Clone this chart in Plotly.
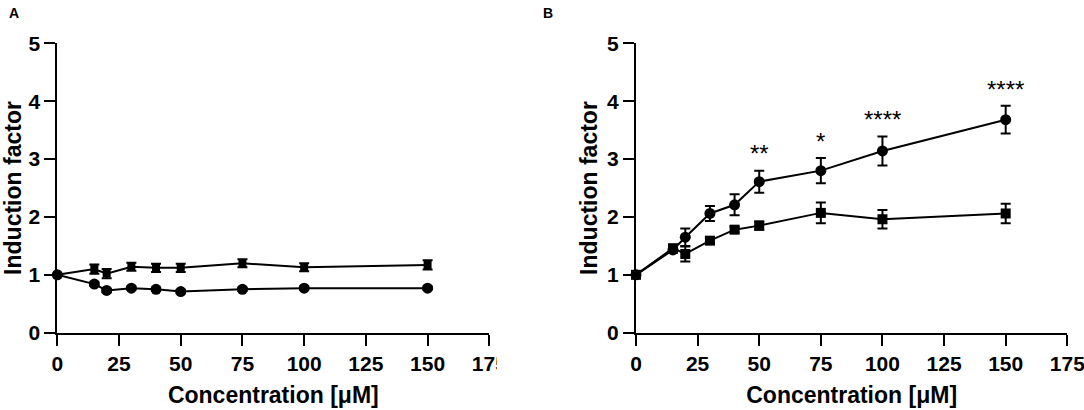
import plotly.graph_objects as go

# ---- data ----
conc = [0, 15, 20, 30, 40, 50, 75, 100, 150]

a_circle = [1.0, 0.84, 0.73, 0.77, 0.75, 0.71, 0.75, 0.77, 0.77]
a_circle_err = [0.02, 0.03, 0.03, 0.03, 0.03, 0.03, 0.03, 0.03, 0.03]
a_square = [1.0, 1.10, 1.02, 1.14, 1.12, 1.12, 1.20, 1.13, 1.17]
a_square_err = [0.02, 0.08, 0.08, 0.07, 0.07, 0.07, 0.07, 0.07, 0.08]

b_circle = [1.0, 1.43, 1.65, 2.06, 2.21, 2.61, 2.80, 3.14, 3.68]
b_circle_err = [0.02, 0.05, 0.15, 0.13, 0.18, 0.19, 0.22, 0.25, 0.24]
b_square = [1.0, 1.46, 1.36, 1.59, 1.78, 1.85, 2.07, 1.96, 2.06]
b_square_err = [0.02, 0.05, 0.13, 0.05, 0.05, 0.07, 0.18, 0.16, 0.17]

b_stars = ["", "", "", "", "", "**", "*", "****", "****"]

x_ticks = [0, 25, 50, 75, 100, 125, 150, 175]
y_ticks = [0, 1, 2, 3, 4, 5]
panel_labels = ["A", "B"]

FONT = "Liberation Sans, Arial, sans-serif"
W, H = 1084, 410


def px_x(v):
    return v / W


def px_y(v):
    return 1 - v / H


fig = go.Figure()


def add_series(y, err, symbol, size, xa, ya):
    fig.add_trace(go.Scatter(
        x=conc, y=y, mode="lines+markers",
        line=dict(color="black", width=2),
        marker=dict(symbol=symbol, size=size, color="black"),
        error_y=dict(type="data", array=err, visible=True, color="black",
                     thickness=2, width=5),
        cliponaxis=False, showlegend=False, xaxis=xa, yaxis=ya,
    ))


add_series(a_circle, a_circle_err, "circle", 11, "x", "y")
add_series(a_square, a_square_err, "square", 8, "x", "y")
add_series(b_circle, b_circle_err, "circle", 11, "x2", "y2")
add_series(b_square, b_square_err, "square", 10, "x2", "y2")

axis_common = dict(
    showgrid=False, zeroline=False, showline=True, linecolor="black",
    linewidth=2, ticks="outside", ticklen=11, tickwidth=2, tickcolor="black",
    automargin=False, ticklabeloverflow="allow",
    tickfont=dict(family=FONT, size=21, color="black", weight="bold"),
)

xdomA = [px_x(57.3), px_x(489.3)]
xdomB = [px_x(636.0), px_x(1067.3)]
ydom = [px_y(332.7), px_y(43.3)]

xtitle = dict(text="Concentration [μM]",
              font=dict(family=FONT, size=23, color="black", weight="bold"),
              standoff=13)
ytitle = dict(text="Induction factor",
              font=dict(family=FONT, size=23, color="black", weight="bold"),
              standoff=3)

fig.update_layout(
    width=W, height=H,
    margin=dict(l=0, r=0, t=0, b=0, autoexpand=False),
    paper_bgcolor="white", plot_bgcolor="white",
    xaxis=dict(domain=xdomA, range=[0, 175], tickvals=x_ticks, anchor="y",
               title=xtitle, **axis_common),
    yaxis=dict(domain=ydom, range=[0, 5], tickvals=y_ticks, anchor="x",
               title=ytitle, **axis_common),
    xaxis2=dict(domain=xdomB, range=[0, 175], tickvals=x_ticks, anchor="y2",
                title=xtitle, **axis_common),
    yaxis2=dict(domain=ydom, range=[0, 5], tickvals=y_ticks, anchor="x2",
                title=ytitle, **axis_common),
)

# significance stars above the circle series in panel B
for xv, yv, ev, s in zip(conc, b_circle, b_circle_err, b_stars):
    if s:
        fig.add_annotation(x=xv, y=yv + ev + 0.29, xref="x2", yref="y2",
                           text=s, showarrow=False, yanchor="middle",
                           font=dict(family=FONT, size=24, color="black"))

# panel letters
for lab, px in zip(panel_labels, [13.5, 547.7]):
    fig.add_annotation(x=px_x(px), y=px_y(13), xref="paper", yref="paper",
                       text=lab, showarrow=False, xanchor="center",
                       yanchor="middle",
                       font=dict(family=FONT, size=14, color="black",
                                 weight="bold"))

# panel A's image is cropped at its right edge (clips its last tick label)
fig.add_shape(type="rect", xref="paper", yref="paper",
              x0=px_x(497), x1=px_x(560), y0=px_y(382), y1=px_y(340),
              fillcolor="white", line=dict(width=0), layer="above")

# let the figure fill the window from its top-left corner (no page margin)
fig.write_html("out.html",
               config={"displayModeBar": False},
               post_script="document.body.style.margin='0px';")
